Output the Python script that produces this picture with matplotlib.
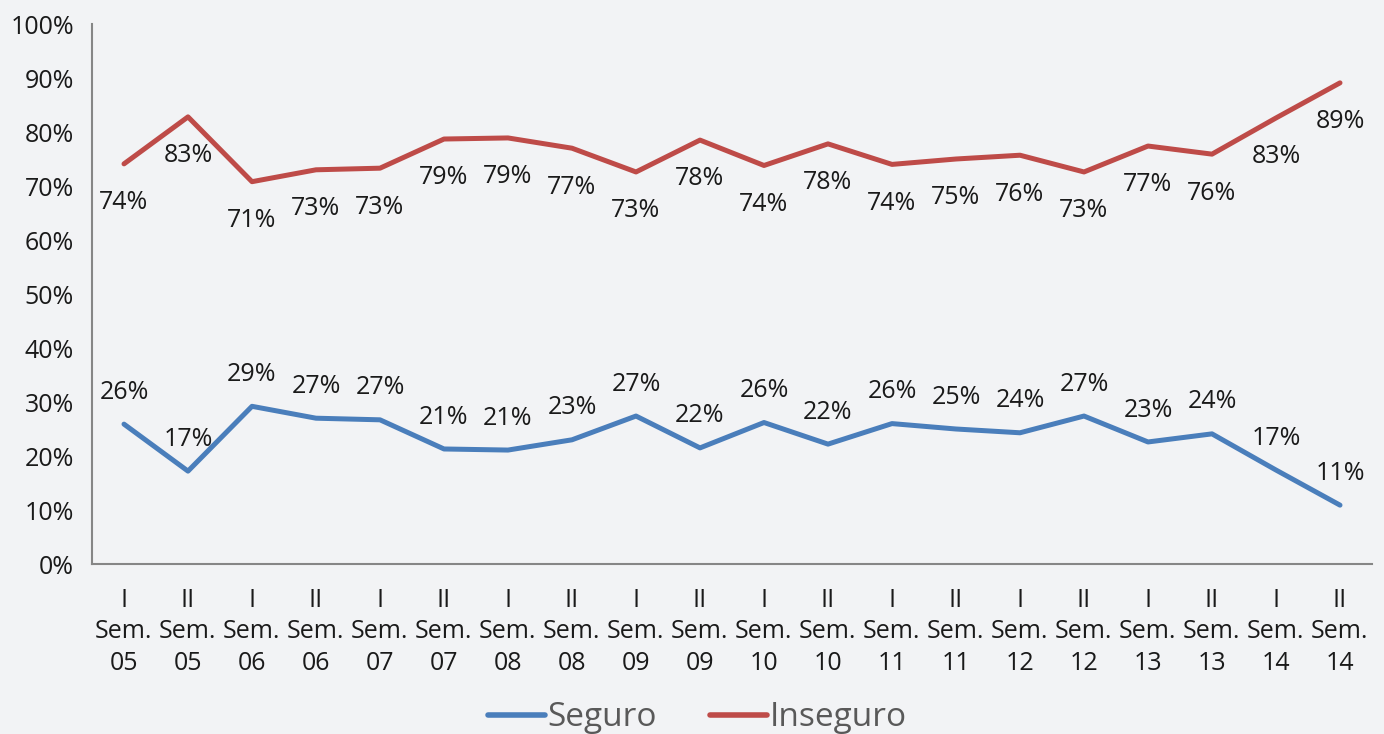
import matplotlib
matplotlib.use("Agg")
import matplotlib.pyplot as plt
from matplotlib.ticker import FuncFormatter, MultipleLocator

plt.rcParams['font.family'] = ['Open Sans', 'DejaVu Sans']

categories = ["I\nSem.\n05", "II\nSem.\n05", "I\nSem.\n06", "II\nSem.\n06", "I\nSem.\n07",
              "II\nSem.\n07", "I\nSem.\n08", "II\nSem.\n08", "I\nSem.\n09", "II\nSem.\n09",
              "I\nSem.\n10", "II\nSem.\n10", "I\nSem.\n11", "II\nSem.\n11", "I\nSem.\n12",
              "II\nSem.\n12", "I\nSem.\n13", "II\nSem.\n13", "I\nSem.\n14", "II\nSem.\n14"]
seguro = [25.9, 17.2, 29.2, 27.0, 26.7, 21.3, 21.1, 23.0, 27.4, 21.5,
          26.2, 22.2, 26.0, 25.0, 24.3, 27.4, 22.6, 24.1, 17.4, 10.9]
inseguro = [74.1, 82.8, 70.8, 73.0, 73.3, 78.7, 78.9, 77.0, 72.6, 78.5,
            73.8, 77.8, 74.0, 75.0, 75.7, 72.6, 77.4, 75.9, 82.6, 89.1]

bg = '#F2F3F5'
blue = '#4A7EBB'
red = '#BE4B48'

fig = plt.figure(figsize=(13.84, 7.34), dpi=100, facecolor=bg)
ax = fig.add_axes([92/1384, (734-564)/734, (1372-92)/1384, 540/734])
ax.set_facecolor(bg)

x = list(range(len(categories)))
ax.plot(x, seguro, color=blue, lw=3.6, solid_joinstyle='round', solid_capstyle='round', label='Seguro')
ax.plot(x, inseguro, color=red, lw=3.6, solid_joinstyle='round', solid_capstyle='round', label='Inseguro')

for xi, v in zip(x, seguro):
    ax.annotate(f"{round(v):d}%", (xi, v), xytext=(0, 23), textcoords='offset points',
                ha='center', va='center', fontsize=18, color='#1a1a1a')
for xi, v in zip(x, inseguro):
    ax.annotate(f"{round(v):d}%", (xi, v), xytext=(0, -28), textcoords='offset points',
                ha='center', va='center', fontsize=18, color='#1a1a1a')

ax.set_xlim(-0.5, len(categories) - 0.5)
ax.set_ylim(0, 100)
ax.yaxis.set_major_locator(MultipleLocator(10))
ax.yaxis.set_major_formatter(FuncFormatter(lambda v, p: f"{int(round(v))}%"))
ax.set_xticks(x)
ax.set_xticklabels(categories, linespacing=1.36)
ax.tick_params(axis='both', length=0, labelsize=18, colors='#1a1a1a')
ax.tick_params(axis='y', pad=13)
ax.tick_params(axis='x', pad=17)
for s in ['top', 'right']:
    ax.spines[s].set_visible(False)
for s in ['left', 'bottom']:
    ax.spines[s].set_color('#868686')
    ax.spines[s].set_linewidth(1.5)

leg = fig.legend(loc='center', bbox_to_anchor=(0.504, 0.022), ncol=2, frameon=False,
                 fontsize=24, handlelength=1.7, handletextpad=0.08, columnspacing=1.6)
for line in leg.get_lines():
    line.set_linewidth(4)
for t in leg.get_texts():
    t.set_color('#595959')

fig.savefig('out.png', dpi=100, facecolor=bg)
